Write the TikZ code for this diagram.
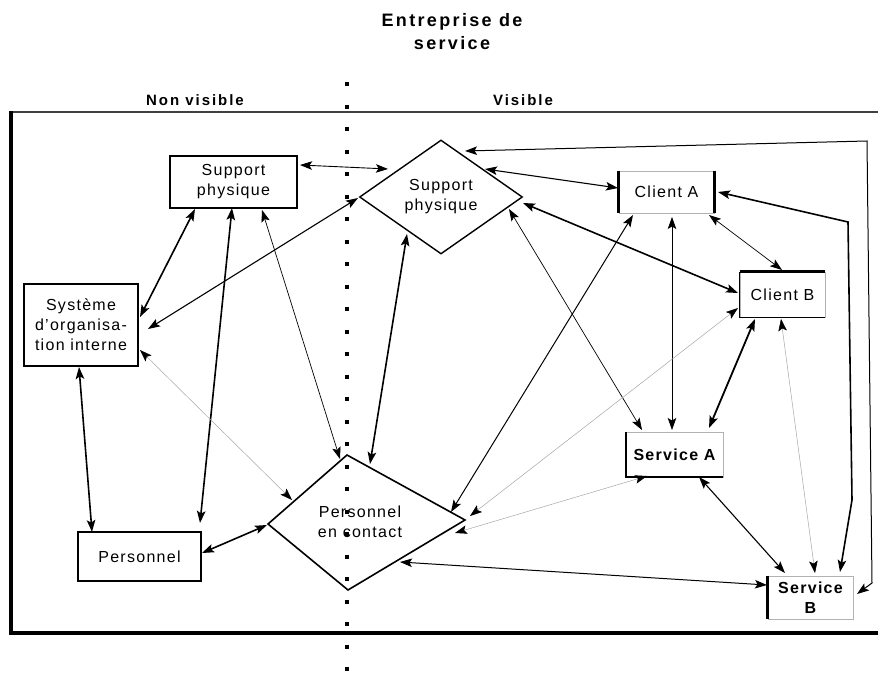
\documentclass[tikz,border=0pt]{standalone}
\usepackage{fontspec}
\setmainfont{Liberation Sans}[LetterSpace=8]
\newfontfamily\hdrfont{Liberation Sans}[LetterSpace=13]
\usetikzlibrary{arrows.meta,shapes.geometric}
\begin{document}
\begin{tikzpicture}[x=1pt,y=-1pt,
  >={Stealth[length=12pt,width=8.5pt,inset=2.5pt,color=black]},
  every node/.style={font=\fontsize{16}{20}\selectfont, align=center, inner sep=0pt},
  box/.style={draw=gray!60, line width=0.6pt},
  hdr/.style={font=\hdrfont\fontsize{15}{18}\selectfont\bfseries},
  thk/.style={<->, line width=1.6pt},
  med/.style={<->, line width=1.1pt},
  thn/.style={<->, line width=0.7pt},
  gry/.style={<->, line width=0.5pt, draw=gray!70}
]
\useasboundingbox (0,0) rectangle (878,677);

% frame and separator
\draw[line width=1.3pt, gray!50!black] (11,112) -- (878,112);
\draw[line width=3.5pt] (11,111) -- (11,633) -- (878,633);
\draw[line width=4pt, dash pattern=on 4pt off 18.5pt] (347,82) -- (347,677);

% titles
\node[font=\hdrfont\fontsize{18}{23}\selectfont\bfseries] (title) at (452,32) {Entreprise de\\service};
\node[hdr] (nv) at (195,100) {Non visible};
\node[hdr] (vi) at (523,100) {Visible};

% nodes
\node[draw, line width=1.6pt, minimum width=127pt, minimum height=52pt] (spb) at (233.5,182) {Support\\physique};
\node[draw, diamond, line width=1.4pt, minimum width=163pt, minimum height=114pt, aspect=1.43] (spd) at (441,197) {Support\\physique};
\node[draw, line width=1.6pt, minimum width=114pt, minimum height=82pt] (sys) at (81,325) {Système\\d'organisa-\\tion interne};
\node[draw, line width=1.2pt, minimum width=123pt, minimum height=49pt] (pers) at (139.5,556.5) {Personnel};
\node[box, minimum width=95pt, minimum height=42pt] (ca) at (666.5,192) {Client A};
\node[box, minimum width=85pt, minimum height=45pt] (cb) at (782.5,294.5) {Client B};
\node[box, minimum width=97pt, minimum height=45pt, font=\fontsize{16}{20}\selectfont\bfseries] (sa) at (674.5,454.5) {Service A};
\node[box, minimum width=85pt, minimum height=43pt, font=\fontsize{16}{20}\selectfont\bfseries] (sb) at (810.5,597.5) {Service\\B};
\coordinate (pec) at (366,522);
\node (pect) at (360,522) {Personnel\\en contact};
\draw[line width=1.6pt, line join=miter] ([shift={(-98,2)}]pec) -- ([shift={(-19,-67)}]pec) -- ([shift={(99,-2)}]pec) -- ([shift={(-18,68)}]pec) -- cycle;

% emphasised box sides
\draw[line width=3pt] (ca.north west) -- (ca.south west) (ca.north east) -- (ca.south east);
\draw[line width=3pt] (cb.north west) -- (cb.north east);
\draw[line width=1.2pt] (cb.north west) -- (cb.south west) -- (cb.south east);
\draw[line width=2pt] (sa.north west) -- (sa.south west) -- (sa.south east);
\draw[line width=3pt] (sb.north west) -- (sb.south west);

% corners of the long connectors
\coordinate (l1) at (867,141);
\coordinate (l2) at (872,583);
\coordinate (r1) at (848,222);
\coordinate (r2) at (852,500);

% connectors
\draw[<->, line width=0.9pt] ([shift={(66.5,-17)}]spb.center) -- ([shift={(-53,-28)}]spd.center);
\draw[thk] ([shift={(-38.5,27)}]spb.center) -- ([shift={(59,-8)}]sys.center);
\draw[med] ([shift={(-83,1)}]spd.center) -- ([shift={(67,4)}]sys.center);
\draw[thk] ([shift={(-1.5,26)}]spb.center) -- ([shift={(60.5,-33.5)}]pers.center);
\draw[thn] ([shift={(28.5,28)}]spb.center) -- ([shift={(-26,-63)}]pec);
\draw[gry] ([shift={(59,25)}]sys.center) -- ([shift={(-74,-22)}]pec);
\draw[thk] ([shift={(-2,42)}]sys.center) -- ([shift={(-47.5,-24.5)}]pers.center);
\draw[thk] ([shift={(62.5,-3.5)}]pers.center) -- ([shift={(-99,3)}]pec);
\draw[thk] ([shift={(-34,37)}]spd.center) -- ([shift={(4,-58)}]pec);
\draw[thn] ([shift={(68,12)}]spd.center) -- ([shift={(-32.5,-24.5)}]sa.center);
\draw[med] ([shift={(44,-28)}]spd.center) -- ([shift={(-48.5,-4)}]ca.center);
\draw[thk] ([shift={(82,6)}]spd.center) -- ([shift={(-44.5,-1.5)}]cb.center);
\draw[<->, line width=1pt] ([shift={(24,-46)}]spd.center) -- (l1) -- (l2) -- ([shift={(46.5,-3.5)}]sb.center);
\draw[thk] ([shift={(51.5,0)}]ca.center) -- (r1) -- (r2) -- ([shift={(29.5,-25.5)}]sb.center);
\draw[thn] ([shift={(42.5,23)}]ca.center) -- ([shift={(-0.5,-24.5)}]cb.center);
\draw[thn] ([shift={(5.5,25)}]ca.center) -- ([shift={(-2.5,-24.5)}]sa.center);
\draw[<->, line width=1pt] ([shift={(-33.5,23)}]ca.center) -- ([shift={(85,-10)}]pec);
\draw[gry] ([shift={(-44.5,13.5)}]cb.center) -- ([shift={(104,-6)}]pec);
\draw[<->, line width=1.8pt] ([shift={(-27.5,24.5)}]cb.center) -- ([shift={(34.5,-26.5)}]sa.center);
\draw[gry] ([shift={(-1.5,24.5)}]cb.center) -- ([shift={(4.5,-24.5)}]sb.center);
\draw[gry] ([shift={(-27.5,21.5)}]sa.center) -- ([shift={(89,11)}]pec);
\draw[med] ([shift={(24.5,22.5)}]sa.center) -- ([shift={(-25.5,-24.5)}]sb.center);
\draw[<->, line width=1pt] ([shift={(34,40)}]pec) -- ([shift={(-43.5,-12.5)}]sb.center);
\end{tikzpicture}
\end{document}
